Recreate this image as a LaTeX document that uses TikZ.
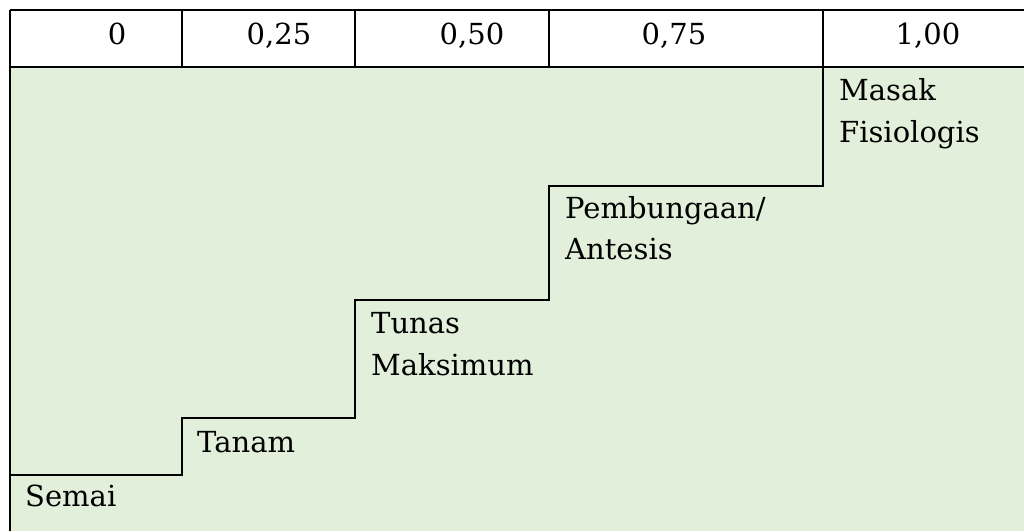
\documentclass[tikz,border=0pt]{standalone}
\usepackage{fontspec}
\setmainfont{DejaVu Serif}
\definecolor{stagegreen}{HTML}{E2EFDA}
\tikzset{
  x=1pt, y=-1pt,
  rule/.style={line width=2.2pt, black},
  steprule/.style={line width=2.2pt, black, line join=miter},
  head/.style={anchor=base, inner sep=0pt, font=\fontsize{29}{34}\selectfont},
  stage/.style={anchor=base west, inner sep=0pt, font=\fontsize{29}{34}\selectfont}
}
\begin{document}
\begin{tikzpicture}
\useasboundingbox (0,0) rectangle (1024,531);
% body and header fills
\fill[stagegreen] (10,67) rectangle (1024,531);
\fill[white] (10,10) rectangle (1024,67);
% header grid
\draw[rule] (10,10) -- (1024,10);
\draw[rule] (10,67) -- (1024,67);
\draw[rule] (10,10) -- (10,531);
\foreach \cx in {182,355,549,823} \draw[rule] (\cx,10) -- (\cx,67);
% header labels
\node[head] (h0)   at (117,44) {0};
\node[head] (h25)  at (279,44) {0,25};
\node[head] (h50)  at (472,44) {0,50};
\node[head] (h75)  at (674,44) {0,75};
\node[head] (h100) at (928,44) {1,00};
% staircase of growth stages
\draw[steprule] (10,475) -| (182,418) -| (355,300) -| (549,186) -| (823,67);
% stage labels
\node[stage] (semai)  at (25,506) {Semai};
\node[stage] (tanam)  at (197,452) {Tanam};
\node[stage] (tunasA) at (371,333) {Tunas};
\node[stage] (tunasB) at (371,375) {Maksimum};
\node[stage] (bungaA) at (565,218) {Pembungaan/};
\node[stage] (bungaB) at (565,259) {Antesis};
\node[stage] (masakA) at (839,100) {Masak};
\node[stage] (masakB) at (839,142) {Fisiologis};
\end{tikzpicture}
\end{document}
